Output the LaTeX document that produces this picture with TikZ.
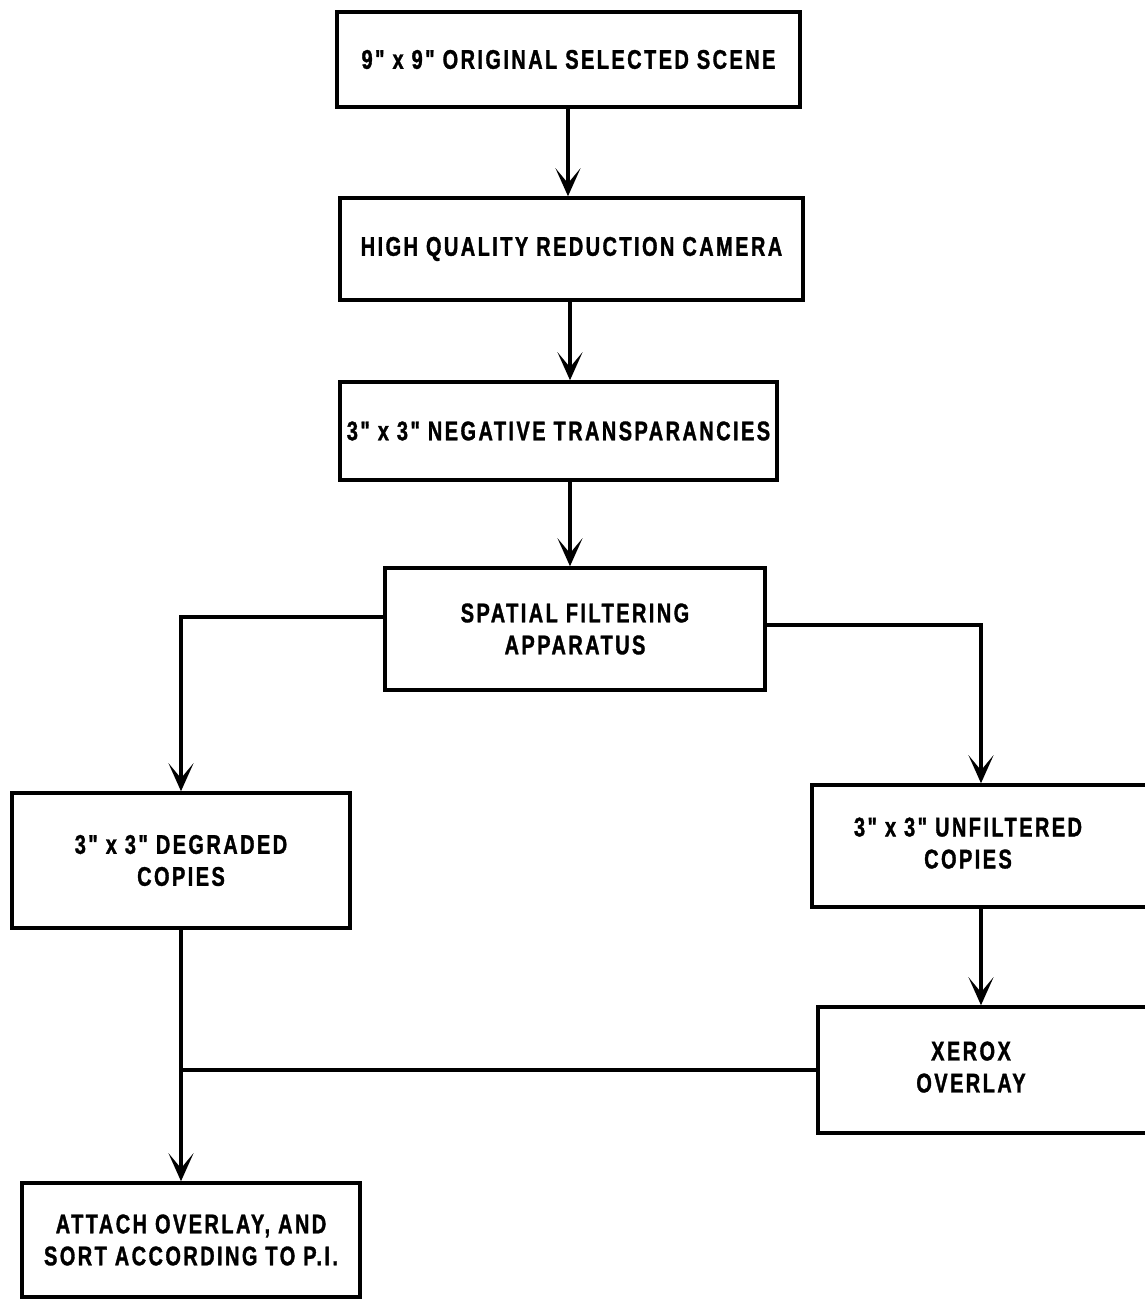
\documentclass[tikz,border=0pt]{standalone}
\usepackage{fontspec}
\newfontfamily\lettering{Liberation Sans Bold}[FakeStretch=0.74,LetterSpace=9,FakeBold=1.2]
\usetikzlibrary{arrows.meta}
\newcommand{\shiftedlines}[1]{\hspace*{-26pt}\begin{tabular}{@{}c@{}}#1\end{tabular}}
\begin{document}
\begin{tikzpicture}[x=1pt,y=-1pt,
  box/.style={draw, line width=3.5pt, inner sep=0pt, align=center,
    font=\lettering\fontsize{27}{32}\selectfont},
  conn/.style={line width=3.2pt},
  arr/.style={conn, -{Stealth[length=28pt,width=25pt,inset=15pt]}}]
\useasboundingbox (0,0) rectangle (1145,1301);
\fill[white] (0,0) rectangle (1145,1301);
\node[box, minimum width=463pt, minimum height=95pt] (b1) at (568.5,59.5) {9" x 9" ORIGINAL SELECTED SCENE};
\node[box, minimum width=463pt, minimum height=102pt] (b2) at (571.5,249) {HIGH QUALITY REDUCTION CAMERA};
\node[box, minimum width=437pt, minimum height=98pt] (b3) at (558.5,431) {3" x 3" NEGATIVE TRANSPARANCIES};
\node[box, minimum width=380pt, minimum height=122pt] (b4) at (575,629) {SPATIAL FILTERING\\APPARATUS};
\node[box, minimum width=338pt, minimum height=135pt] (b5) at (181,860.5) {3" x 3" DEGRADED\\COPIES};
\node[box, minimum width=338pt, minimum height=122pt, align=left] (b6) at (981,846) {\shiftedlines{3" x 3" UNFILTERED\\COPIES}};
\node[box, minimum width=332pt, minimum height=126pt, align=left] (b7) at (984,1070) {\shiftedlines{XEROX\\OVERLAY}};
\node[box, minimum width=338pt, minimum height=114pt] (b8) at (191,1240) {ATTACH OVERLAY, AND\\SORT ACCORDING TO P.I.};
\draw[arr] (b1.south -| 568,0) -- (b2.north -| 568,0);
\draw[arr] (b2.south -| 570,0) -- (b3.north -| 570,0);
\draw[arr] (b3.south -| 570,0) -- (b4.north -| 570,0);
\draw[arr] (b4.west |- 0,617) -| (b5.north);
\draw[arr] (b4.east |- 0,625) -| (b6.north);
\draw[arr] (b6.south) -- (b6.south |- b7.north);
\draw[arr] (b5.south) -- (b5.south |- b8.north);
\coordinate (j) at (b5.south |- b7.west);
\draw[conn] (b7.west) -- (j);
\end{tikzpicture}
\end{document}
